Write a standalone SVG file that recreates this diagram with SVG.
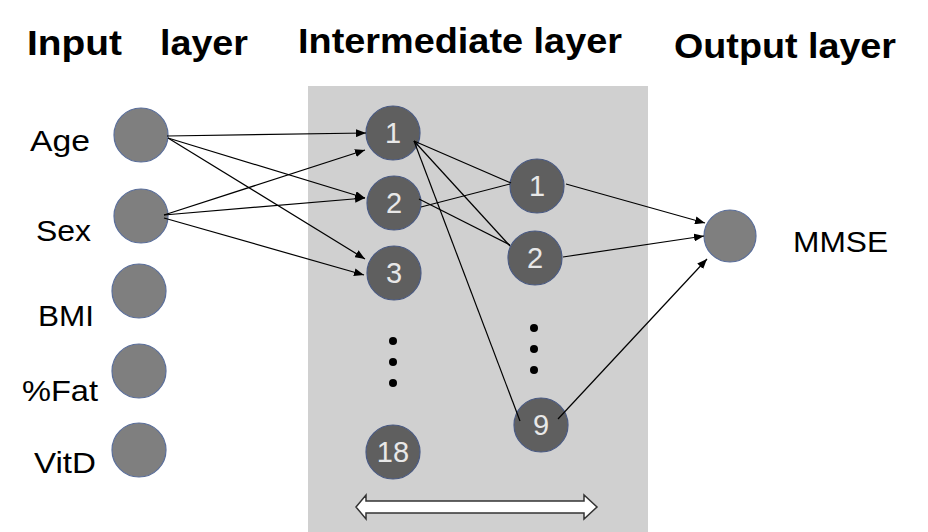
<svg xmlns="http://www.w3.org/2000/svg" width="928" height="532" viewBox="0 0 928 532">
<defs>
<marker id="ah" markerWidth="10" markerHeight="8" refX="10" refY="4" orient="auto" markerUnits="userSpaceOnUse"><path d="M0,0 L10,4 L0,8 z" fill="#000"/></marker>
<style>
.n{fill:#7f7f7f;stroke:#5a6e9a;stroke-width:1.2}
.h{fill:#5f5f5f;stroke:#4a5a82;stroke-width:1.2}
.t{font-family:"Liberation Sans",Arial,sans-serif;fill:#000}
.w{font-family:"Liberation Sans",Arial,sans-serif;fill:#e8e8e8;font-size:29px;text-anchor:middle}
.c line{stroke:#000;stroke-width:1.2}
.a{marker-end:url(#ah)}
</style>
</defs>
<rect width="928" height="532" fill="#fff"/>
<rect x="308" y="86" width="340" height="446" fill="#d0d0d0"/>
<g class="t" font-size="35" font-weight="bold">
<text x="27" y="55" textLength="95" lengthAdjust="spacingAndGlyphs">Input</text><text x="160" y="55" textLength="88" lengthAdjust="spacingAndGlyphs">layer</text>
<text x="298" y="53" textLength="324" lengthAdjust="spacingAndGlyphs">Intermediate layer</text>
<text x="674" y="58" textLength="222" lengthAdjust="spacingAndGlyphs">Output layer</text>
</g>
<g class="t" font-size="29">
<text x="30" y="151" textLength="60" lengthAdjust="spacingAndGlyphs">Age</text><text x="36" y="241" textLength="55" lengthAdjust="spacingAndGlyphs">Sex</text><text x="38" y="326" textLength="56" lengthAdjust="spacingAndGlyphs">BMI</text><text x="22" y="401" textLength="76" lengthAdjust="spacingAndGlyphs">%Fat</text><text x="34" y="473" textLength="62" lengthAdjust="spacingAndGlyphs">VitD</text>
<text x="793" y="252" textLength="95" lengthAdjust="spacingAndGlyphs">MMSE</text>
</g>
<g id="in-age"><circle class="n" cx="141" cy="135" r="27"/></g>
<g id="in-sex"><circle class="n" cx="141" cy="216" r="27"/></g>
<g id="in-bmi"><circle class="n" cx="139" cy="291" r="27"/></g>
<g id="in-fat"><circle class="n" cx="139" cy="371" r="27"/></g>
<g id="in-vitd"><circle class="n" cx="139" cy="450" r="27"/></g>
<g id="h1-1"><circle class="h" cx="393" cy="133" r="27"/><text class="w" x="393" y="143">1</text></g>
<g id="h1-2"><circle class="h" cx="394" cy="203" r="27"/><text class="w" x="394" y="213">2</text></g>
<g id="h1-3"><circle class="h" cx="394" cy="273" r="27"/><text class="w" x="394" y="283">3</text></g>
<g id="h1-18"><circle class="h" cx="393" cy="452" r="27"/><text class="w" x="393" y="462">18</text></g>
<g id="h2-1"><circle class="h" cx="537" cy="186" r="27"/><text class="w" x="537" y="196">1</text></g>
<g id="h2-2"><circle class="h" cx="535" cy="258" r="27"/><text class="w" x="535" y="268">2</text></g>
<g id="h2-9"><circle class="h" cx="541" cy="425" r="27"/><text class="w" x="541" y="435">9</text></g>
<g id="out"><circle class="n" cx="730" cy="236" r="26"/></g>
<g fill="#000">
<circle cx="393" cy="341" r="4"/><circle cx="393" cy="362" r="4"/><circle cx="393" cy="383" r="4"/>
<circle cx="534" cy="328" r="4"/><circle cx="534" cy="349" r="4"/><circle cx="534" cy="370" r="4"/>
</g>
<g class="c" id="connectors">
<line class="a" x1="167" y1="136" x2="366" y2="133"/>
<line class="a" x1="168" y1="138" x2="365" y2="198"/>
<line class="a" x1="168" y1="138" x2="365" y2="259"/>
<line class="a" x1="164" y1="215" x2="365" y2="150"/>
<line class="a" x1="164" y1="215" x2="365" y2="198"/>
<line class="a" x1="164" y1="218" x2="364" y2="275"/>
<line x1="414" y1="141" x2="511" y2="183"/>
<line x1="414" y1="141" x2="510" y2="246"/>
<line x1="414" y1="141" x2="520" y2="421"/>
<line x1="421" y1="207" x2="510" y2="184"/>
<line x1="419" y1="199" x2="510" y2="245"/>
<line class="a" x1="566" y1="184" x2="705" y2="223"/>
<line class="a" x1="563" y1="257" x2="704" y2="236"/>
<line class="a" x1="558" y1="419" x2="707" y2="259"/>
</g>
<path d="M356,507 L366,495 L366,501 L584,501 L584,495 L597,507 L584,519 L584,513 L366,513 L366,519 Z" fill="#fff" stroke="#333" stroke-width="1.5"/>
</svg>
